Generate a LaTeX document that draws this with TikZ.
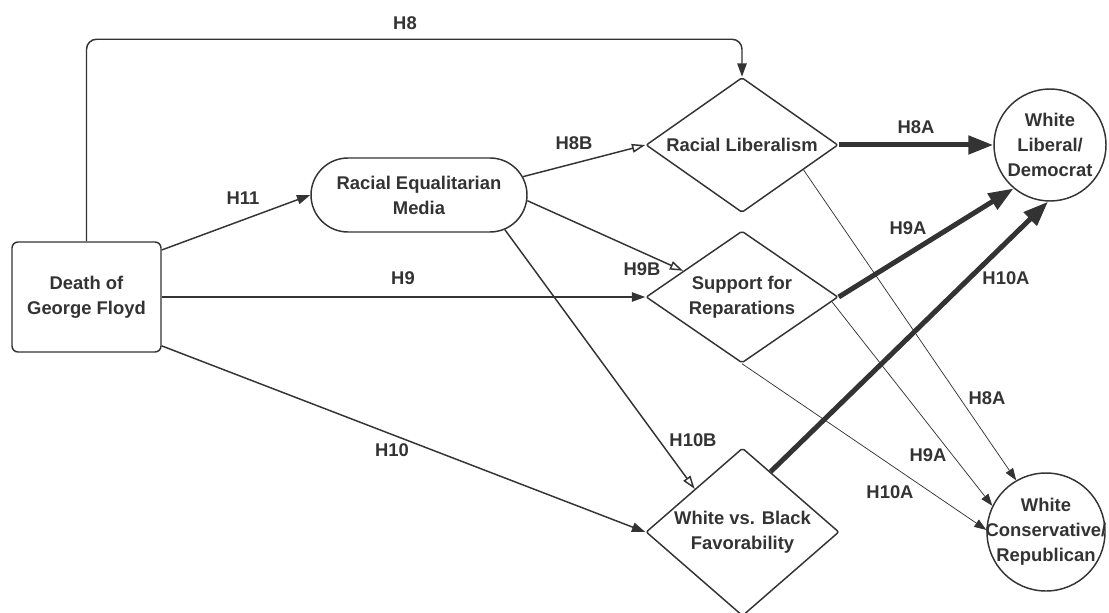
\documentclass[tikz,border=0pt]{standalone}
\usepackage{fontspec}
\setmainfont{Liberation Sans}
\usetikzlibrary{shapes.geometric,shapes.misc,arrows.meta}
\definecolor{ink}{HTML}{333333}

\begin{document}
\begin{tikzpicture}[x=0.75pt,y=-0.75pt,
  every node/.style={font=\fontsize{13.8pt}{18.75pt}\selectfont\bfseries, text=ink, align=center},
  box/.style={draw=ink, line width=1.1pt, rectangle, rounded corners=4.5pt,
    minimum width=111.75pt, minimum height=82.5pt, inner sep=0pt},
  pill/.style={draw=ink, line width=1.1pt, rounded rectangle,
    minimum width=162pt, minimum height=55.5pt, inner sep=0pt},
  dia/.style={draw=ink, line width=1.1pt, diamond, inner sep=0pt, rounded corners=1.5pt},
  ring/.style={draw=ink, line width=1.1pt, circle, inner sep=0pt},
  conn/.style={draw=ink, line width=1.1pt, -{Triangle[length=10pt,width=7pt]}},
  hollowconn/.style={draw=ink, line width=1.1pt, -{Triangle[open,length=10pt,width=6.5pt,fill=white]}},
  heavyconn/.style={draw=ink, line width=3.75pt, -{Triangle[length=18.75pt,width=13.5pt]}},
  fineconn/.style={draw=ink, line width=0.55pt, -{Triangle[length=9pt,width=6.5pt]}},
  lbl/.style={inner sep=0pt}
]
\useasboundingbox (0,0) rectangle (1109,613);

% nodes
\node[box] (death) at (86.5,297) {Death of\\George Floyd};
\node[pill] (media) at (419,195) {Racial Equalitarian\\Media};
\node[dia, aspect=1.42, minimum width=144pt, minimum height=101.25pt] (rl) at (742,145) {Racial Liberalism};
\node[dia, aspect=1.45, minimum width=144pt, minimum height=99pt] (sup) at (742,297) {Support for\\Reparations};
\node[dia, aspect=1.15, minimum width=144.75pt, minimum height=126pt] (wb) at (742.5,532) {White vs. Black\\Favorability};
\node[ring, minimum size=84pt, label={center:White\\Liberal/\\Democrat}] (lib) at (1050,145) {};
\node[ring, minimum size=88.5pt, label={center:White\\Conservative/\\Republican}] (cons) at (1046,532) {};

% direct paths from the event
\draw[conn, rounded corners=7.5pt] (death.north) -- ++(0,-202) -| (rl.north);
\draw[conn] (death.32.8) -- (media.west);
\draw[conn] (death.east) -- (sup.west);
\draw[conn] (death.-33.3) -- (wb.west);

% mediated paths
\draw[hollowconn] (media.10) -- (rl.west);
\draw[hollowconn] (media.-3) -- (sup.156.6);
\draw[hollowconn] (media.-22.6) -- (wb.138.7);

% outcomes: conservative / republican
\draw[fineconn] (rl.-22) -- (cons.120.8);
\draw[fineconn] (sup.-3) -- (cons.154.3);
\draw[fineconn] (sup.south) -- (cons.178);

% outcomes: liberal / democrat
\draw[heavyconn] (rl.east) -- (lib.west);
\draw[heavyconn] (sup.east) -- (lib.-130.2);
\draw[heavyconn] (wb.65) -- (lib.-92);

% path labels
\node[lbl] (lh8) at (405,23) {H8};
\node[lbl] (lh11) at (243,198) {H11};
\node[lbl] (lh9) at (403,278) {H9};
\node[lbl] (lh10) at (392,450) {H10};
\node[lbl] (lh8b) at (574,143) {H8B};
\node[lbl] (lh9b) at (642,269) {H9B};
\node[lbl] (lh10b) at (693,440) {H10B};
\node[lbl] (lh8a) at (916,127) {H8A};
\node[lbl] (lh9a) at (908,228) {H9A};
\node[lbl] (lh10a) at (1006,278) {H10A};
\node[lbl] (lh8ac) at (987,398) {H8A};
\node[lbl] (lh9ac) at (928,455) {H9A};
\node[lbl] (lh10ac) at (890,492) {H10A};
\end{tikzpicture}
\end{document}
